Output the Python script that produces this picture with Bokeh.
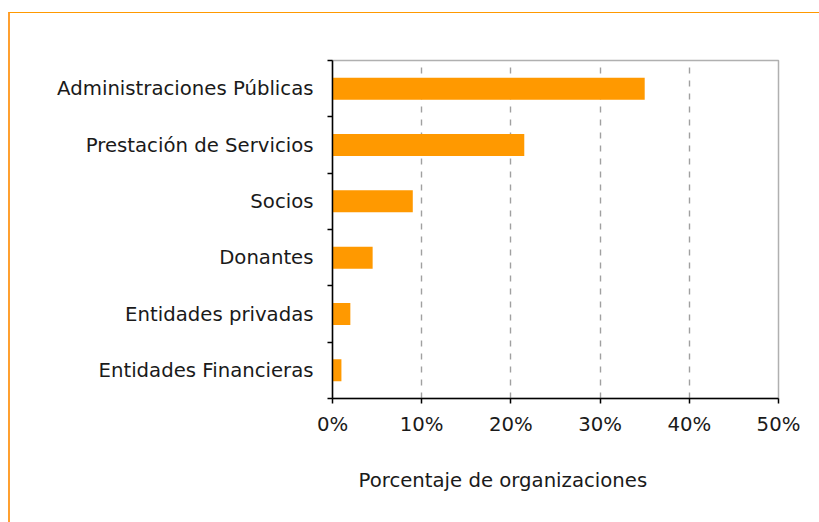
from bokeh.plotting import figure
from bokeh.models import FixedTicker, PrintfTickFormatter, Range1d, InlineStyleSheet
from bokeh.embed import file_html
from bokeh.resources import INLINE

categories = ["Entidades Financieras", "Entidades privadas", "Donantes",
              "Socios", "Prestación de Servicios", "Administraciones Públicas"]
values = [1.0, 2.0, 4.5, 9.0, 21.5, 35.0]
x_ticks = [0, 10, 20, 30, 40, 50]
x_label = "Porcentaje de organizaciones"

FONT = "DejaVu Sans"
FS = "19.7px"
TXT = "#1a1a1a"

positions = list(range(len(categories)))

p = figure(width=819, height=522, output_backend="svg", toolbar_location=None,
           x_range=Range1d(0, 50), y_range=Range1d(-0.5, len(categories) - 0.5),
           min_border_left=332, min_border_right=41, min_border_top=60, min_border_bottom=124,
           title=x_label, title_location="below")
p.background_fill_color = "white"
p.border_fill_color = "white"
p.outline_line_color = "#b0b0b0"
p.outline_line_width = 1.5

p.hbar(y=positions, right=values, left=0, height=0.39, color="#FF9900", line_color=None)

# x axis
xa = p.xaxis[0]
xa.ticker = FixedTicker(ticks=x_ticks, minor_ticks=[])
xa.formatter = PrintfTickFormatter(format="%d%%")
xa.axis_line_color = "black"
xa.axis_line_width = 1.5
xa.major_tick_in = 0
xa.major_tick_out = 5
xa.major_tick_line_color = "black"
xa.major_tick_line_width = 1.5
xa.minor_tick_line_color = None
xa.major_label_text_font = FONT
xa.major_label_text_font_size = FS
xa.major_label_text_color = TXT
xa.major_label_standoff = 9

# y axis
ya = p.yaxis[0]
ya.ticker = FixedTicker(ticks=positions,
                        minor_ticks=[i - 0.5 for i in range(len(categories) + 1)])
ya.major_label_overrides = {i: c for i, c in zip(positions, categories)}
ya.axis_line_color = "black"
ya.axis_line_width = 1.5
ya.major_tick_in = 0
ya.major_tick_out = 0
ya.major_tick_line_color = None
ya.minor_tick_in = 0
ya.minor_tick_out = 5
ya.minor_tick_line_color = "black"
ya.minor_tick_line_width = 1.5
ya.major_label_text_font = FONT
ya.major_label_text_font_size = FS
ya.major_label_text_color = TXT
ya.major_label_standoff = 14

p.xgrid.ticker = FixedTicker(ticks=[10, 20, 30, 40])
p.xgrid.grid_line_color = "#a0a0a0"
p.xgrid.grid_line_dash = "6 7"
p.xgrid.grid_line_width = 1.4
p.ygrid.grid_line_color = None

# axis title (placed as a below-title so it can be offset like the original)
p.title.text_font = FONT
p.title.text_font_size = FS
p.title.text_font_style = "normal"
p.title.text_color = TXT
p.title.align = "left"
p.title.offset = 26
p.title.standoff = 57

# orange frame of the chart area (left and top edges; the rest is cropped)
p.stylesheets = [InlineStyleSheet(css="""
:host::after {
  content: "";
  position: absolute;
  left: 8px; top: 12px; right: 0px; bottom: 0px;
  border-left: 2px solid #FFA030;
  border-top: 1.5px solid #FF9900;
  pointer-events: none;
  box-sizing: border-box;
}
""")]

open("out.html", "w").write(file_html(p, INLINE))
